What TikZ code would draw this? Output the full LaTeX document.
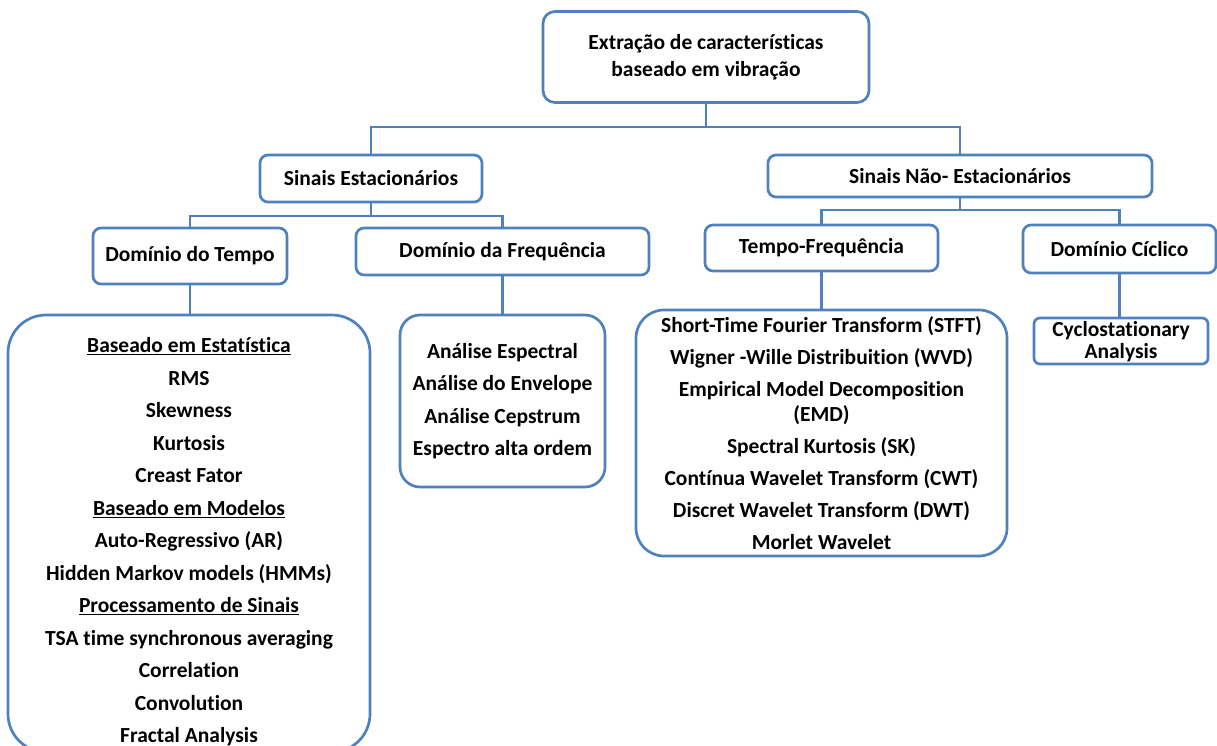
\documentclass[tikz,border=0pt]{standalone}
\usepackage{fontspec}
\setmainfont{Carlito}[Ligatures={NoCommon,NoRequired,NoContextual},Contextuals=NoAlternate]
\definecolor{linec}{RGB}{79,129,189}
\begin{document}
\begin{tikzpicture}[x=1pt,y=-1pt,
  every node/.style={font=\bfseries\fontsize{21.5}{25}\selectfont, text=black},
  box/.style={draw=linec, line width=2.7pt, rounded corners=#1, inner sep=0pt, align=center},
  box/.default=8pt,
  listtext/.style={align=center, inner sep=0pt},
  conn/.style={draw=linec, line width=2.7pt}]
\useasboundingbox (0,0) rectangle (1217,746);
\clip (0,0) rectangle (1217,746);

% top level
\node[box=12pt, minimum width=326pt, minimum height=91pt,
      font=\bfseries\fontsize{21.5}{27}\selectfont] (root) at (706,57)
  {Extração de características\\baseado em vibração};

% second level
\node[box, minimum width=222pt, minimum height=47pt] (sest) at (371,178.5) {Sinais Estacionários};
\node[box, minimum width=384pt, minimum height=42pt] (snest) at (960,176) {Sinais Não- Estacionários};

% third level
\node[box, minimum width=194pt, minimum height=56pt] (dtempo) at (190,256) {Domínio do Tempo};
\node[box, minimum width=293pt, minimum height=47pt] (dfreq) at (502.5,251.5) {Domínio da Frequência};
\node[box, minimum width=233pt, minimum height=46pt] (tf) at (821.5,248) {Tempo-Frequência};
\node[box, minimum width=193pt, minimum height=48pt] (dcic) at (1119.5,249) {Domínio Cíclico};

% leaf boxes
\node[box=38pt, minimum width=362pt, minimum height=437pt] (tbox) at (189,533.5) {};
\node[listtext] (tlist) at (189,542) {%
  \underline{Baseado em Estatística}\\[7.5pt]
  RMS\\[7.5pt]
  Skewness\\[7.5pt]
  Kurtosis\\[7.5pt]
  Creast Fator\\[7.5pt]
  \underline{Baseado em Modelos}\\[7.5pt]
  Auto-Regressivo (AR)\\[7.5pt]
  Hidden Markov models (HMMs)\\[7.5pt]
  \underline{Processamento de Sinais}\\[7.5pt]
  TSA time synchronous averaging\\[7.5pt]
  Correlation\\[7.5pt]
  Convolution\\[7.5pt]
  Fractal Analysis};

\node[box=20pt, minimum width=205pt, minimum height=172pt] (fbox) at (502.5,401) {};
\node[listtext] (flist) at (502.5,401) {%
  Análise Espectral\\[7.5pt]
  Análise do Envelope\\[7.5pt]
  Análise Cepstrum\\[7.5pt]
  Espectro alta ordem};

\node[box=28pt, minimum width=371pt, minimum height=246pt] (tfbox) at (821.5,433) {};
\node[listtext] (tflist) at (821.5,433.5) {%
  Short-Time Fourier Transform (STFT)\\[7pt]
  Wigner -Wille Distribuition (WVD)\\[7pt]
  Empirical Model Decomposition\\
  (EMD)\\[7pt]
  Spectral Kurtosis (SK)\\[7pt]
  Contínua Wavelet Transform (CWT)\\[7pt]
  Discret Wavelet Transform (DWT)\\[7pt]
  Morlet Wavelet};

\node[box=6pt, minimum width=174pt, minimum height=46pt, text depth=2pt,
      font=\bfseries\fontsize{21.5}{22}\selectfont] (cbox) at (1121,341)
  {Cyclostationary\\Analysis};

% bus junctions
\coordinate (j1) at (706,127);
\coordinate (j2) at (371,216);
\coordinate (j3) at (960,210);

% connectors
\draw[conn] (root.south) -- (j1);
\draw[conn] (sest.north) |- (j1) -| (snest.north);
\draw[conn] (sest.south) -- (j2);
\draw[conn] (dtempo.north) |- (j2) -| (dfreq.north);
\draw[conn] (snest.south) -- (j3);
\draw[conn] (tf.north) |- (j3) -| (dcic.north);
\draw[conn] (dtempo.south) -- (dtempo.south |- tbox.north);
\draw[conn] (dfreq.south) -- (dfreq.south |- fbox.north);
\draw[conn] (tf.south) -- (tf.south |- tfbox.north);
\draw[conn] (dcic.south) -- (dcic.south |- cbox.north);
\end{tikzpicture}
\end{document}
